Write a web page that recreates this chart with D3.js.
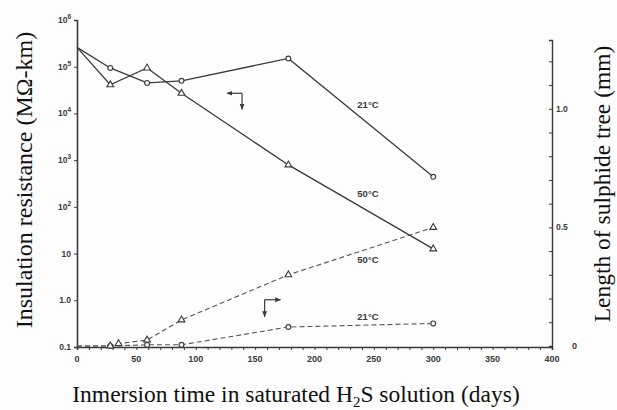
<!DOCTYPE html>
<html>
<head>
<meta charset="utf-8">
<script src="https://cdn.jsdelivr.net/npm/d3@7"></script>
<style>
  body { margin: 0; background: #fff; }
  svg { display: block; }
</style>
</head>
<body>
<div id="chart"></div>
<script>
// resistance (left, log axis)
var days21 = [0, 28, 59, 88, 178, 300];
var resist21 = [2.6e5, 9.4e4, 4.5e4, 5.0e4, 1.5e5, 440];
var days50 = [0, 28, 59, 88, 178, 300];
var resist50 = [2.6e5, 4.1e4, 9.4e4, 2.7e4, 790, 12.6];

// sulphide tree length (right axis, mm)
var treeDays50 = [0, 28, 35, 59, 88, 178, 300];
var tree50 = [0, 0, 0.01, 0.025, 0.11, 0.30, 0.50];
var treeDays21 = [0, 28, 59, 88, 178, 300];
var tree21 = [0, 0, 0.005, 0.005, 0.08, 0.095];

var xTicks = [0, 50, 100, 150, 200, 250, 300, 350, 400];
var yTicks = [0.1, 1, 10, 1e2, 1e3, 1e4, 1e5, 1e6];
var yTickBase = ["0.1", "1.0", "10", "10", "10", "10", "10", "10"];
var yTickExp = ["", "", "", "2", "3", "4", "5", "6"];
var rTicks = [0.5, 1.0];
var rTickLabels = ["0.5", "1.0"];

var width = 617, height = 410;
var ink = "#3a3a3a";
var sans = "Liberation Sans, Arial, sans-serif";

var svg = d3.select("#chart").append("svg")
    .attr("width", width)
    .attr("height", height);

svg.append("rect").attr("width", width).attr("height", height).attr("fill", "#fdfdfd");

var x = d3.scaleLinear().domain([0, 400]).range([77, 552]);
var y = d3.scaleLog().domain([0.1, 1e6]).range([347, 20]);
var yr = d3.scaleLinear().domain([0, 1.29]).range([346, 40]);

// x axis
var xAxis = d3.axisBottom(x)
    .tickValues(d3.range(0, 401, 10))
    .tickSize(3)
    .tickFormat("");
var gx = svg.append("g").attr("transform", "translate(0," + y(0.1) + ")").call(xAxis);
gx.select(".domain").attr("stroke", ink).attr("stroke-width", 1.6);
gx.selectAll(".tick line").attr("stroke", ink);

svg.append("g").selectAll("text")
    .data(xTicks)
    .enter().append("text")
    .attr("x", function(d) { return x(d); })
    .attr("y", y(0.1) + 15)
    .attr("text-anchor", "middle")
    .attr("font-family", sans)
    .attr("font-weight", "bold")
    .attr("font-size", 9)
    .attr("fill", ink)
    .text(function(d) { return d; });

// left axis
var yAxis = d3.axisLeft(y).tickValues(yTicks).tickSize(3).tickFormat("");
var gy = svg.append("g").attr("transform", "translate(" + x(0) + ",0)").call(yAxis);
gy.select(".domain").attr("stroke", ink).attr("stroke-width", 1.6);
gy.selectAll(".tick line").attr("stroke", ink);

var yl = svg.append("g").selectAll("text")
    .data(yTicks)
    .enter().append("text")
    .attr("x", x(0) - 6)
    .attr("y", function(d) { return y(d) + 3; })
    .attr("text-anchor", "end")
    .attr("font-family", sans)
    .attr("font-weight", "bold")
    .attr("font-size", 8.5)
    .attr("fill", ink);
yl.append("tspan").text(function(d, i) { return yTickBase[i]; });
yl.append("tspan")
    .attr("font-size", 6.5)
    .attr("dy", -4)
    .text(function(d, i) { return yTickExp[i]; });

// right axis
var rAxis = d3.axisLeft(yr).tickValues(d3.range(1, 13).map(function(d) { return d / 10; })).tickSize(3).tickFormat("");
var gr = svg.append("g").attr("transform", "translate(" + x(400) + ",0)").call(rAxis);
gr.select(".domain").attr("stroke", ink).attr("stroke-width", 1.4);
gr.selectAll(".tick line").attr("stroke", ink);

svg.append("g").selectAll("text")
    .data(rTicks)
    .enter().append("text")
    .attr("x", x(400) + 4)
    .attr("y", function(d) { return yr(d) + 3; })
    .attr("font-family", sans)
    .attr("font-weight", "bold")
    .attr("font-size", 8.5)
    .attr("fill", ink)
    .text(function(d, i) { return rTickLabels[i]; });

svg.append("text")
    .attr("x", x(400) + 20)
    .attr("y", yr(0) + 3)
    .attr("font-family", sans)
    .attr("font-weight", "bold")
    .attr("font-size", 9)
    .attr("fill", ink)
    .text("0");

// lines
function series(xs, ys, ysc) {
  return xs.map(function(d, i) { return [x(d), ysc(ys[i])]; });
}
var line = d3.line();

var solid21 = series(days21, resist21, y);
var solid50 = series(days50, resist50, y);
var dash50 = series(treeDays50, tree50, yr);
var dash21 = series(treeDays21, tree21, yr);

[solid21, solid50].forEach(function(pts) {
  svg.append("path").attr("d", line(pts)).attr("fill", "none")
      .attr("stroke", ink).attr("stroke-width", 1.3);
});
[dash50, dash21].forEach(function(pts) {
  svg.append("path").attr("d", line(pts)).attr("fill", "none")
      .attr("stroke", "#555").attr("stroke-width", 1.1).attr("stroke-dasharray", "5,3");
});

// markers
var tri = d3.symbol().type(d3.symbolTriangle).size(20);
function circles(pts) {
  svg.append("g").selectAll("circle").data(pts.slice(1)).enter().append("circle")
      .attr("cx", function(d) { return d[0]; })
      .attr("cy", function(d) { return d[1]; })
      .attr("r", 2.4)
      .attr("fill", "#fff").attr("stroke", ink).attr("stroke-width", 1.1);
}
function triangles(pts) {
  svg.append("g").selectAll("path").data(pts.slice(1)).enter().append("path")
      .attr("d", tri)
      .attr("transform", function(d) { return "translate(" + d[0] + "," + d[1] + ")"; })
      .attr("fill", "#fff").attr("stroke", ink).attr("stroke-width", 1.1);
}
circles(solid21);
triangles(solid50);
circles(dash21);
triangles(dash50);

// curve labels
function tempLabel(xv, yv, t) {
  svg.append("text")
      .attr("x", xv).attr("y", yv)
      .attr("dominant-baseline", "middle")
      .attr("text-anchor", "middle")
      .attr("font-family", sans)
      .attr("font-weight", "bold")
      .attr("font-size", 9.5)
      .attr("fill", ink)
      .text(t);
}
tempLabel(x(245), y(1.5e4), "21°C");
tempLabel(x(245), y(180), "50°C");
tempLabel(x(245), yr(0.36), "50°C");
tempLabel(x(245), yr(0.12), "21°C");

// axis indicator arrows
svg.append("defs").append("marker")
    .attr("id", "ah").attr("viewBox", "0 0 10 10")
    .attr("refX", 9).attr("refY", 5)
    .attr("markerWidth", 5).attr("markerHeight", 5)
    .attr("orient", "auto")
  .append("path").attr("d", "M0,1L10,5L0,9Z").attr("fill", ink);

function arrow(x0, y0, x1, y1) {
  svg.append("line").attr("x1", x0).attr("y1", y0).attr("x2", x1).attr("y2", y1)
      .attr("stroke", ink).attr("stroke-width", 1.2).attr("marker-end", "url(#ah)");
}
// pointing to the left axis
var ax = x(139), ay = y(2.7e4);
arrow(ax, ay, ax - 15, ay);
arrow(ax, ay, ax, ay + 16);
// pointing to the right axis
var bx = x(158), by = yr(0.195);
arrow(bx, by, bx + 16, by);
arrow(bx, by, bx, by + 17);

// axis titles
var serif = "Liberation Serif, Times New Roman, serif";
svg.append("text")
    .attr("transform", "translate(32,180) rotate(-90)")
    .attr("text-anchor", "middle")
    .attr("font-family", serif)
    .attr("font-size", 24)
    .attr("fill", "#111")
    .text("Insulation resistance (MΩ-km)");

svg.append("text")
    .attr("transform", "translate(610,184) rotate(-90)")
    .attr("text-anchor", "middle")
    .attr("font-family", serif)
    .attr("font-size", 23.5)
    .attr("fill", "#111")
    .text("Length of sulphide tree (mm)");

var xt = svg.append("text")
    .attr("x", 296).attr("y", 402)
    .attr("text-anchor", "middle")
    .attr("font-family", serif)
    .attr("font-size", 23.5)
    .attr("fill", "#111");
xt.append("tspan").text("Inmersion time in saturated H");
xt.append("tspan").attr("font-size", 15).attr("dy", 5).text("2");
xt.append("tspan").attr("dy", -5).text("S solution (days)");
</script>
</body>
</html>
